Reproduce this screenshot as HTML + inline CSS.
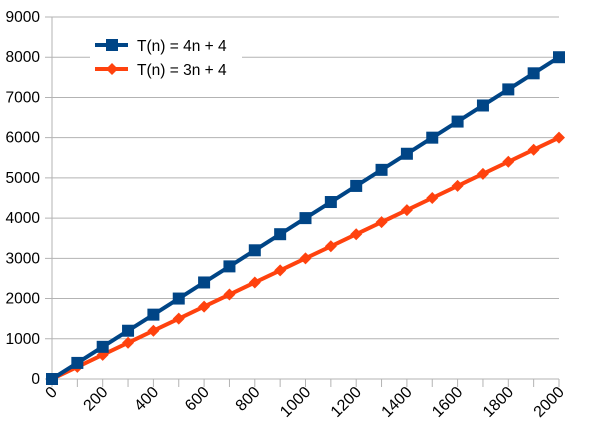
<!DOCTYPE html>
<html><head><meta charset="utf-8"><style>body{margin:0;background:#fff}svg{display:block;font-family:"Liberation Sans",sans-serif}</style></head>
<body>
<svg id="c" width="598" height="435"></svg>
<script>
const xCats=[0,100,200,300,400,500,600,700,800,900,1000,1100,1200,1300,1400,1500,1600,1700,1800,1900,2000];
const seriesA=[0,400,800,1200,1600,2000,2400,2800,3200,3600,4000,4400,4800,5200,5600,6000,6400,6800,7200,7600,8000];
const seriesB=[0,300,600,900,1200,1500,1800,2100,2400,2700,3000,3300,3600,3900,4200,4500,4800,5100,5400,5700,6000];
const yTicks=[0,1000,2000,3000,4000,5000,6000,7000,8000,9000];
const xLabels=[0,200,400,600,800,1000,1200,1400,1600,1800,2000];
const NS='http://www.w3.org/2000/svg',svg=document.getElementById('c');
const X=v=>52+v/2000*507, Y=v=>379-v/9000*362;
function mk(t,a,p){const e=document.createElementNS(NS,t);for(const k in a)e.setAttribute(k,a[k]);(p||svg).appendChild(e);return e;}
yTicks.forEach(v=>{
 const g=mk('line',{x1:45,x2:559,y1:Y(v),y2:Y(v),stroke:'#b3b3b3','stroke-width':1});
 
 
 const t=mk('text',{x:40,y:Y(v)+5,'text-anchor':'end','font-size':15.5,fill:'#000'});t.textContent=v;
 
 
});
const ax=mk('line',{x1:52,x2:52,y1:Y(9000),y2:379,stroke:'#b3b3b3'});


xCats.forEach(v=>{const l=mk('line',{x1:X(v),x2:X(v),y1:379,y2:387,stroke:'#b3b3b3'});
 
 });
xLabels.forEach(v=>{
 const t=mk('text',{x:X(v)+6,y:393,'text-anchor':'end','font-size':16,transform:`rotate(-45 ${X(v)+6} 393)`});t.textContent=v;
 
 
});
function series(d,color,shape,name){
 const g=mk('g',{});
 
 
 mk('polyline',{points:d.map((v,i)=>X(xCats[i])+','+Y(v)).join(' '),fill:'none',stroke:color,'stroke-width':4,'stroke-linejoin':'round'},g);
 d.forEach((v,i)=>{const x=X(xCats[i]),y=Y(v);let m;
  if(shape==='sq')m=mk('rect',{x:x-6,y:y-6,width:12,height:12,fill:color},g);
  else m=mk('polygon',{points:`${x},${y-6} ${x+6},${y} ${x},${y+6} ${x-6},${y}`,fill:color},g);
  
  });
}
series(seriesB,'#ff420e','di','series-3n');
series(seriesA,'#004586','sq','series-4n');
const lg=mk('g',{});


mk('rect',{x:90,y:30,width:152,height:52,fill:'#fff'},lg);
mk('line',{x1:95,x2:128,y1:45,y2:45,stroke:'#004586','stroke-width':4},lg);
mk('rect',{x:106,y:39,width:12,height:12,fill:'#004586'},lg);
mk('line',{x1:95,x2:128,y1:69,y2:69,stroke:'#ff420e','stroke-width':4},lg);
mk('polygon',{points:'112,63 118,69 112,75 106,69',fill:'#ff420e'},lg);
const t1=mk('text',{x:137,y:51,'font-size':15.5},lg);t1.textContent='T(n) = 4n + 4';
const t2=mk('text',{x:137,y:75,'font-size':15.5},lg);t2.textContent='T(n) = 3n + 4';
</script>
</body></html>
